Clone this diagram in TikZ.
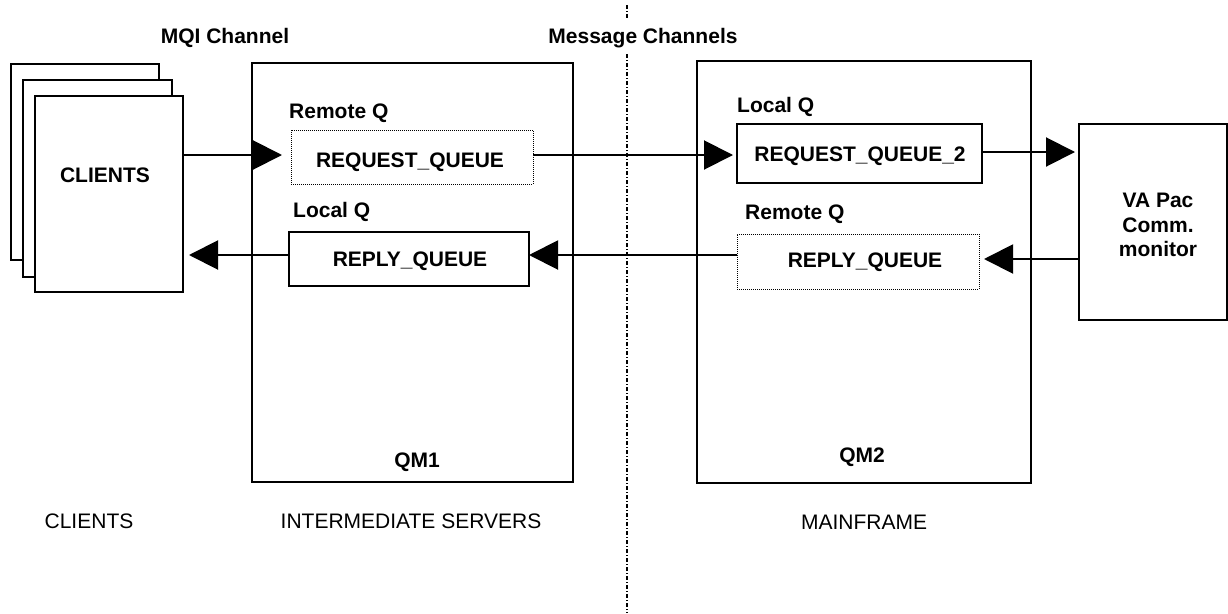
\documentclass[tikz,border=0pt]{standalone}
\usepackage{fontspec}
\setmainfont{Liberation Sans}
\usetikzlibrary{arrows.meta}
\begin{document}
\begin{tikzpicture}[x=1pt,y=-1pt,
  box/.style={draw, line width=1.8pt, fill=white, rectangle, inner sep=0pt, outer sep=0pt, anchor=north west},
  dotbox/.style={draw, line width=0.9pt, dash pattern=on 1pt off 1pt, rectangle, inner sep=0pt, outer sep=0pt, anchor=north west},
  lbl/.style={inner sep=0pt, font=\fontsize{21}{24.5}\selectfont\bfseries},
  plain/.style={inner sep=0pt, font=\fontsize{21}{24.5}\selectfont},
  arr/.style={line width=2pt, -{Triangle[length=29pt,width=29pt]}},
  sep/.style={line width=1.4pt, dash pattern=on 4pt off 2pt on 1pt off 2pt}
]
\useasboundingbox (0,0) rectangle (1228,613);
\fill[white] (0,0) rectangle (1228,613);

% client sheets
\node[box, minimum width=148pt, minimum height=196pt] (c3) at (11,64) {};
\node[box, minimum width=149pt, minimum height=197pt] (c2) at (23,80) {};
\node[box, minimum width=148pt, minimum height=196pt] (c1) at (35,96) {};
\node[lbl, anchor=base] (cl) at (105,182) {CLIENTS};

% queue managers
\node[box, minimum width=321pt, minimum height=419pt] (qm1) at (252,63) {};
\node[box, minimum width=334pt, minimum height=422pt] (qm2) at (697,61) {};
\node[box, minimum width=148pt, minimum height=196pt] (va) at (1079,124) {};

% queues
\node[dotbox, minimum width=242pt, minimum height=54pt] (rq) at (291,130) {};
\node[box, minimum width=240pt, minimum height=54pt] (rp1) at (289,232) {};
\node[box, minimum width=245pt, minimum height=59pt] (rq2) at (737,124) {};
\node[dotbox, minimum width=242pt, minimum height=55pt] (rp2) at (737,234) {};

% labels
\node[lbl, anchor=base] (mqi) at (225,43) {MQI Channel};
\node[lbl, anchor=base] (msg) at (643,43) {Message Channels};
\node[lbl, anchor=base west] (rql) at (289,118) {Remote Q};
\node[lbl, anchor=base] (rqt) at (410,167) {REQUEST\_QUEUE};
\node[lbl, anchor=base west] (lql) at (293,217) {Local Q};
\node[lbl, anchor=base] (rp1t) at (410,266) {REPLY\_QUEUE};
\node[lbl, anchor=base west] (lq2l) at (737,112) {Local Q};
\node[lbl, anchor=base] (rq2t) at (860,161) {REQUEST\_QUEUE\_2};
\node[lbl, anchor=base west] (rm2l) at (745,219) {Remote Q};
\node[lbl, anchor=base] (rp2t) at (865,267) {REPLY\_QUEUE};
\node[lbl, align=center] (vat) at (1158,225) {VA Pac\\Comm.\\monitor};
\node[lbl, anchor=base] (qm1t) at (417,467) {QM1};
\node[lbl, anchor=base] (qm2t) at (862,462) {QM2};
\node[plain, anchor=base] (b1) at (89,528) {CLIENTS};
\node[plain, anchor=base] (b2) at (411,528) {INTERMEDIATE SERVERS};
\node[plain, anchor=base] (b3) at (864,529) {MAINFRAME};

% separator
\coordinate (dtop) at (627,5);
\coordinate (dm1) at (627,18);
\coordinate (dm2) at (627,54);
\coordinate (dbot) at (627,613);
\draw[sep] (dtop) -- (dm1);
\draw[sep] (dm2) -- (dbot);

% connectors
\draw[arr] ([yshift=2pt]c1.east |- rq.west) -- ([xshift=-9pt,yshift=2pt]rq.west);
\draw[arr] ([yshift=2pt]rq.east) -- ([xshift=-4pt,yshift=2pt]rq.east -| rq2.west);
\draw[arr] ([yshift=1.5pt]rq2.east) -- ([xshift=-4pt,yshift=1.5pt]rq2.east -| va.west);
\draw[arr] ([yshift=2.5pt]va.west |- rp2.east) -- ([xshift=5pt,yshift=2.5pt]rp2.east);
\draw[arr] ([yshift=4pt]rp1.east -| rp2.west) -- ([yshift=4pt]rp1.east);
\draw[arr] ([yshift=4pt]rp1.west) -- ([xshift=6pt,yshift=4pt]rp1.west -| c1.east);
\end{tikzpicture}
\end{document}
